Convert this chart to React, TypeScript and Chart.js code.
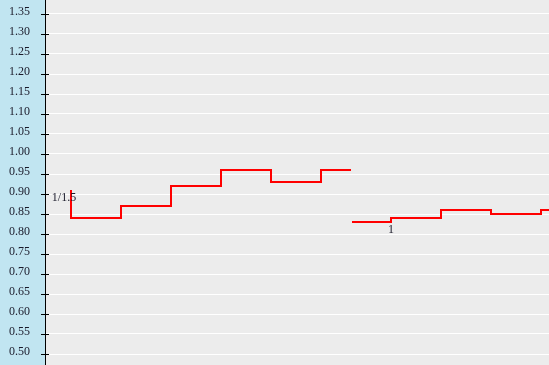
import React, { useEffect, useRef } from "react";
import { Chart, registerables } from "chart.js";

Chart.register(...registerables);

// x in time units (each step = 5 units), y = odds value
const series1X = [0, 0, 5, 10, 15, 20, 25, 28];
const series1Y = [0.91, 0.84, 0.87, 0.92, 0.96, 0.93, 0.96, 0.96];
const series2X = [28.1, 32, 37, 42, 47, 47.8];
const series2Y = [0.83, 0.84, 0.86, 0.85, 0.86, 0.86];
const yTicks = [0.5, 0.55, 0.6, 0.65, 0.7, 0.75, 0.8, 0.85, 0.9, 0.95, 1.0, 1.05, 1.1, 1.15, 1.2, 1.25, 1.3, 1.35];
const pointLabels = [
  { text: "1/1.5", x: 0, y: 0.91, dx: -7, dy: 8 },
  { text: "1", x: 32, y: 0.84, dx: 0, dy: 12 },
];

const X_MIN = -2.6;
const X_MAX = 47.8;
const Y_MIN = 0.4725;
const Y_MAX = 1.385;

export default function App() {
  const ref = useRef<HTMLCanvasElement>(null);
  useEffect(() => {
    const canvas = ref.current!;
    const bgPlugin = {
      id: "bg",
      beforeDraw(chart: any) {
        const { ctx, width, height, chartArea } = chart;
        ctx.save();
        ctx.fillStyle = "#ececec";
        ctx.fillRect(0, 0, width, height);
        ctx.fillStyle = "#c1e5f1";
        ctx.fillRect(0, 0, chartArea.left, height);
        ctx.restore();
      },
      afterDraw(chart: any) {
        const { ctx, chartArea, scales } = chart;
        const y = scales.y;
        ctx.save();
        ctx.strokeStyle = "#000";
        ctx.lineWidth = 1;
        ctx.font = "12px 'Liberation Serif'";
        ctx.fillStyle = "#1a1a2a";
        ctx.textAlign = "right";
        ctx.textBaseline = "middle";
        for (const v of yTicks) {
          const py = Math.round(y.getPixelForValue(v)) + 0.5;
          ctx.beginPath();
          ctx.moveTo(chartArea.left - 4, py);
          ctx.lineTo(chartArea.left + 4, py);
          ctx.stroke();
          ctx.fillText(v.toFixed(2), chartArea.left - 15, py - 3);
        }
        ctx.textAlign = "center";
        for (const l of pointLabels) {
          const px = scales.x.getPixelForValue(l.x) + l.dx;
          const py = y.getPixelForValue(l.y) + l.dy;
          ctx.fillText(l.text, px, py);
        }
        ctx.restore();
      },
    };
    const chart = new Chart(canvas, {
      type: "line",
      data: {
        datasets: [
          {
            data: series1X.map((x, i) => ({ x, y: series1Y[i] })),
            borderColor: "#ff0000",
            borderWidth: 2,
            pointRadius: 0,
            stepped: "before",
            fill: false,
          },
          {
            data: series2X.map((x, i) => ({ x, y: series2Y[i] })),
            borderColor: "#ff0000",
            borderWidth: 2,
            pointRadius: 0,
            stepped: "before",
            fill: false,
          },
        ],
      },
      options: {
        responsive: false,
        animation: false,
        layout: { padding: 0 },
        plugins: { legend: { display: false }, tooltip: { enabled: false } },
        scales: {
          x: { type: "linear", min: X_MIN, max: X_MAX, display: false },
          y: {
            type: "linear",
            min: Y_MIN,
            max: Y_MAX,
            afterFit(scale: any) {
              scale.width = 45;
            },
            afterBuildTicks(scale: any) {
              scale.ticks = yTicks.map((v) => ({ value: v }));
            },
            grid: { color: "#ffffff", lineWidth: 1, drawTicks: false },
            border: { display: true, color: "#000", width: 1 },
            ticks: { display: false },
          },
        },
      },
      plugins: [bgPlugin],
    } as any);
    return () => chart.destroy();
  }, []);
  return (
    <div style={{ position: "fixed", left: 0, top: 0, width: 549, height: 365 }}>
      <canvas ref={ref} width={549} height={365} />
    </div>
  );
}
